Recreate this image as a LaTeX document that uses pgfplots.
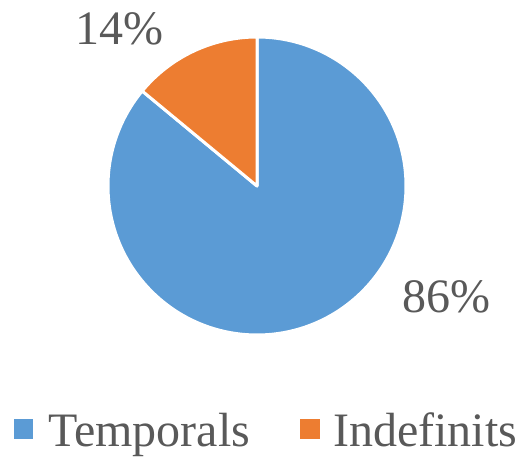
\documentclass[border=0pt]{standalone}
\usepackage{pgfplots}
\pgfplotsset{compat=1.18}
\usepackage{fontspec}
\setmainfont{Liberation Serif}
\definecolor{pieblue}{HTML}{5B9BD5}
\definecolor{pieorange}{HTML}{ED7D31}
\definecolor{txt}{HTML}{595959}
% shares in percent
\def\temporals{86}
\def\indefinits{14}
\begin{document}
\begin{tikzpicture}
\begin{axis}[
    width=523pt, height=452pt, scale only axis,
    xmin=0, xmax=523, ymin=0, ymax=452,
    hide axis, clip=false,
  ]
  \path (axis cs:0,0) rectangle (axis cs:523,452);
  \pgfmathsetmacro\cut{90+\indefinits*3.6}
  \pgfmathsetmacro\endb{\cut-360}
  % Temporals
  \fill[pieblue, draw=white, line width=3pt, line join=round]
    (axis cs:257,266) -- ++(90:149pt) arc[start angle=90, end angle=\endb, radius=149pt] -- cycle;
  % Indefinits
  \fill[pieorange, draw=white, line width=3pt, line join=round]
    (axis cs:257,266) -- ++(90:149pt) arc[start angle=90, end angle=\cut, radius=149pt] -- cycle;
  \begin{scope}[every node/.style={inner sep=0pt, text=txt, font=\fontsize{48}{56}\selectfont}]
    \node[anchor=base west] at (axis cs:75,407) {\indefinits\%};
    \node[anchor=base west] at (axis cs:402,139) {\temporals\%};
    \fill[pieblue] (axis cs:14,13) rectangle (axis cs:33,33);
    \node[anchor=base west] at (axis cs:48,5) {Temporals};
    \fill[pieorange] (axis cs:300,13) rectangle (axis cs:320,33);
    \node[anchor=base west] at (axis cs:333,5) {Indefinits};
  \end{scope}
\end{axis}
\end{tikzpicture}
\end{document}
